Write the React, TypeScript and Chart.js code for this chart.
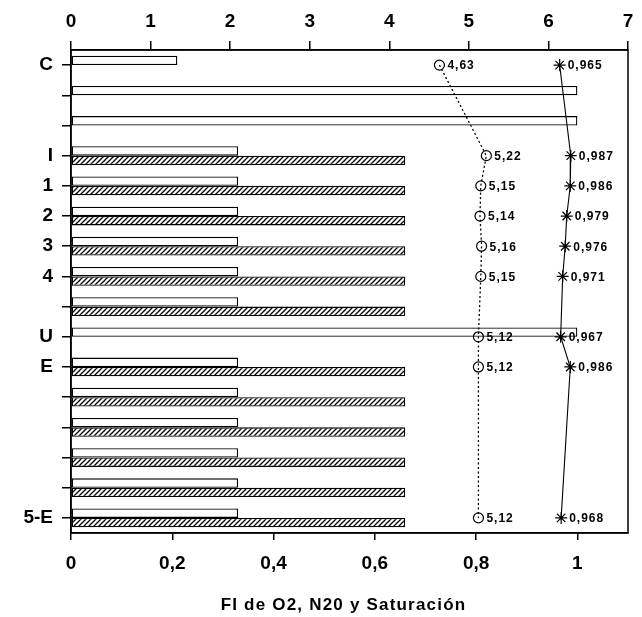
import React, { useEffect, useRef } from 'react';
import { Chart, registerables } from 'chart.js';

Chart.register(...registerables);

const categories = ['C', '', '', 'I', '1', '2', '3', '4', '', 'U', 'E', '', '', '', '', '5-E'];
const fiO2 = [0.21, 1, 1, 0.33, 0.33, 0.33, 0.33, 0.33, 0.33, 1, 0.33, 0.33, 0.33, 0.33, 0.33, 0.33];
const fiN2O = [0, 0, 0, 0.66, 0.66, 0.66, 0.66, 0.66, 0.66, 0, 0.66, 0.66, 0.66, 0.66, 0.66, 0.66];
const circleValues = [4.63, null, null, 5.22, 5.15, 5.14, 5.16, 5.15, null, 5.12, 5.12, null, null, null, null, 5.12];
const saturation = [0.965, null, null, 0.987, 0.986, 0.979, 0.976, 0.971, null, 0.967, 0.986, null, null, null, null, 0.968];
const bottomTicks = [0, 0.2, 0.4, 0.6, 0.8, 1];
const topTicks = [0, 1, 2, 3, 4, 5, 6, 7];
const axisTitle = 'FI de O2, N20 y Saturación';

const FONT = "'Liberation Sans', Arial, sans-serif";

function makeHatch(): CanvasPattern | string {
  const c = document.createElement('canvas');
  c.width = 5;
  c.height = 5;
  const g = c.getContext('2d');
  if (!g) return '#fff';
  g.fillStyle = '#fff';
  g.fillRect(0, 0, 5, 5);
  g.strokeStyle = '#000';
  g.lineWidth = 1.3;
  g.beginPath();
  g.moveTo(-1, 6);
  g.lineTo(6, -1);
  g.moveTo(-2, 2);
  g.lineTo(2, -2);
  g.moveTo(3, 7);
  g.lineTo(7, 3);
  g.stroke();
  const p = g.createPattern(c, 'repeat');
  return p || '#fff';
}

const framePlugin = {
  id: 'frame',
  afterDatasetsDraw(chart: any) {
    const { ctx, chartArea } = chart;
    ctx.save();
    ctx.strokeStyle = '#000';
    ctx.lineWidth = 1.5;
    ctx.strokeRect(chartArea.left, chartArea.top, chartArea.right - chartArea.left, chartArea.bottom - chartArea.top);
    ctx.restore();
  },
};

const titlePlugin = {
  id: 'spacedTitle',
  afterDraw(chart: any) {
    const { ctx, chartArea } = chart;
    ctx.save();
    ctx.fillStyle = '#000';
    ctx.font = `bold 17px ${FONT}`;
    (ctx as any).letterSpacing = '1.2px';
    ctx.textAlign = 'center';
    ctx.textBaseline = 'middle';
    ctx.fillText(axisTitle, (chartArea.left + chartArea.right) / 2 - 6, 605);
    ctx.restore();
  },
};

const valueLabelPlugin = {
  id: 'valueLabels',
  afterDatasetsDraw(chart: any) {
    const { ctx } = chart;
    ctx.save();
    ctx.fillStyle = '#000';
    ctx.font = `bold 12px ${FONT}`;
    (ctx as any).letterSpacing = '1px';
    ctx.textBaseline = 'middle';
    ctx.textAlign = 'left';
    chart.data.datasets.forEach((ds: any, di: number) => {
      if (ds.type !== 'line') return;
      const meta = chart.getDatasetMeta(di);
      ds.data.forEach((v: number | null, i: number) => {
        if (v === null || v === undefined) return;
        const pt = meta.data[i];
        if (!pt) return;
        const txt = v.toFixed(ds.decimals).replace('.', ',');
        ctx.fillText(txt, pt.x + 8, pt.y + 1);
      });
    });
    ctx.restore();
  },
};

export default function App() {
  const ref = useRef<HTMLCanvasElement | null>(null);

  useEffect(() => {
    if (!ref.current) return;
    Chart.defaults.font.family = FONT;
    Chart.defaults.color = '#000';
    const hatch = makeHatch();
    const tickFont = { family: FONT, size: 19, weight: 'bold' as const };

    const chart = new Chart(ref.current, {
      type: 'bar',
      data: {
        labels: categories,
        datasets: [
          {
            type: 'bar',
            label: 'FI O2',
            data: fiO2,
            indexAxis: 'y',
            xAxisID: 'x',
            yAxisID: 'y',
            backgroundColor: '#fff',
            borderColor: '#000',
            borderWidth: (c: any) => (c.raw ? 1.3 : 0),
            borderSkipped: false,
            categoryPercentage: 0.62,
            barPercentage: 1,
            order: 2,
          } as any,
          {
            type: 'bar',
            label: 'FI N2O',
            data: fiN2O,
            indexAxis: 'y',
            xAxisID: 'x',
            yAxisID: 'y',
            backgroundColor: hatch,
            borderColor: '#000',
            borderWidth: (c: any) => (c.raw ? 1.3 : 0),
            borderSkipped: false,
            categoryPercentage: 0.62,
            barPercentage: 1,
            order: 2,
          } as any,
          {
            type: 'line',
            label: 'Valor',
            data: circleValues,
            decimals: 2,
            indexAxis: 'y',
            xAxisID: 'x2',
            yAxisID: 'y',
            borderColor: '#000',
            borderWidth: 1.3,
            borderDash: [2, 2.5],
            spanGaps: true,
            tension: 0,
            fill: false,
            pointStyle: 'circle',
            pointRadius: 5,
            pointBorderWidth: 1.2,
            pointBorderColor: '#000',
            pointBackgroundColor: 'rgba(0,0,0,0)',
            order: 1,
          } as any,
          {
            type: 'line',
            label: 'Saturación',
            data: saturation,
            decimals: 3,
            indexAxis: 'y',
            xAxisID: 'x',
            yAxisID: 'y',
            borderColor: '#000',
            borderWidth: 1.1,
            spanGaps: true,
            tension: 0,
            fill: false,
            pointStyle: 'star',
            pointRadius: 6,
            pointBorderWidth: 1.2,
            pointBorderColor: '#000',
            pointBackgroundColor: '#000',
            order: 1,
          } as any,
        ],
      },
      options: {
        responsive: false,
        animation: false,
        devicePixelRatio: 1,
        indexAxis: 'y',
        layout: { padding: { left: 0, right: 14, top: 0, bottom: 0 } },
        plugins: {
          legend: { display: false },
          tooltip: { enabled: false },
        },
        scales: {
          y: {
            type: 'category',
            position: 'left',
            offset: true,
            grid: {
              display: true,
              drawOnChartArea: false,
              offset: false,
              tickLength: 9,
              color: '#000',
              lineWidth: 1.5,
            },
            border: { display: true, color: '#000', width: 1.5 },
            ticks: { color: '#000', font: tickFont, padding: 9, autoSkip: false },
            afterFit: (s: any) => {
              s.width = 71;
            },
          },
          x: {
            type: 'linear',
            position: 'bottom',
            min: 0,
            max: 1.1,
            afterBuildTicks: (a: any) => {
              a.ticks = bottomTicks.map((v) => ({ value: v }));
            },
            grid: {
              display: true,
              drawOnChartArea: false,
              tickLength: 7,
              color: '#000',
              lineWidth: 1.5,
            },
            border: { display: true, color: '#000', width: 1.5 },
            ticks: {
              color: '#000',
              font: tickFont,
              padding: 12,
              maxRotation: 0,
              autoSkip: false,
              callback: (v: any) => String(v).replace('.', ','),
            },
            afterFit: (s: any) => {
              s.height = 84;
            },
          },
          x2: {
            type: 'linear',
            position: 'top',
            min: 0,
            max: 7,
            afterBuildTicks: (a: any) => {
              a.ticks = topTicks.map((v) => ({ value: v }));
            },
            grid: {
              display: true,
              drawOnChartArea: false,
              tickLength: 9,
              color: '#000',
              lineWidth: 1.5,
            },
            border: { display: true, color: '#000', width: 1.5 },
            ticks: {
              color: '#000',
              font: tickFont,
              padding: 8,
              maxRotation: 0,
              autoSkip: false,
              callback: (v: any) => String(v),
            },
            afterFit: (s: any) => {
              s.height = 50;
            },
          },
        },
      } as any,
      plugins: [framePlugin, valueLabelPlugin, titlePlugin],
    });

    return () => chart.destroy();
  }, []);

  return (
    <div style={{ position: 'fixed', left: 0, top: 0, width: 642, height: 617, background: '#fff' }}>
      <canvas ref={ref} width={642} height={617} style={{ display: 'block' }} />
    </div>
  );
}
